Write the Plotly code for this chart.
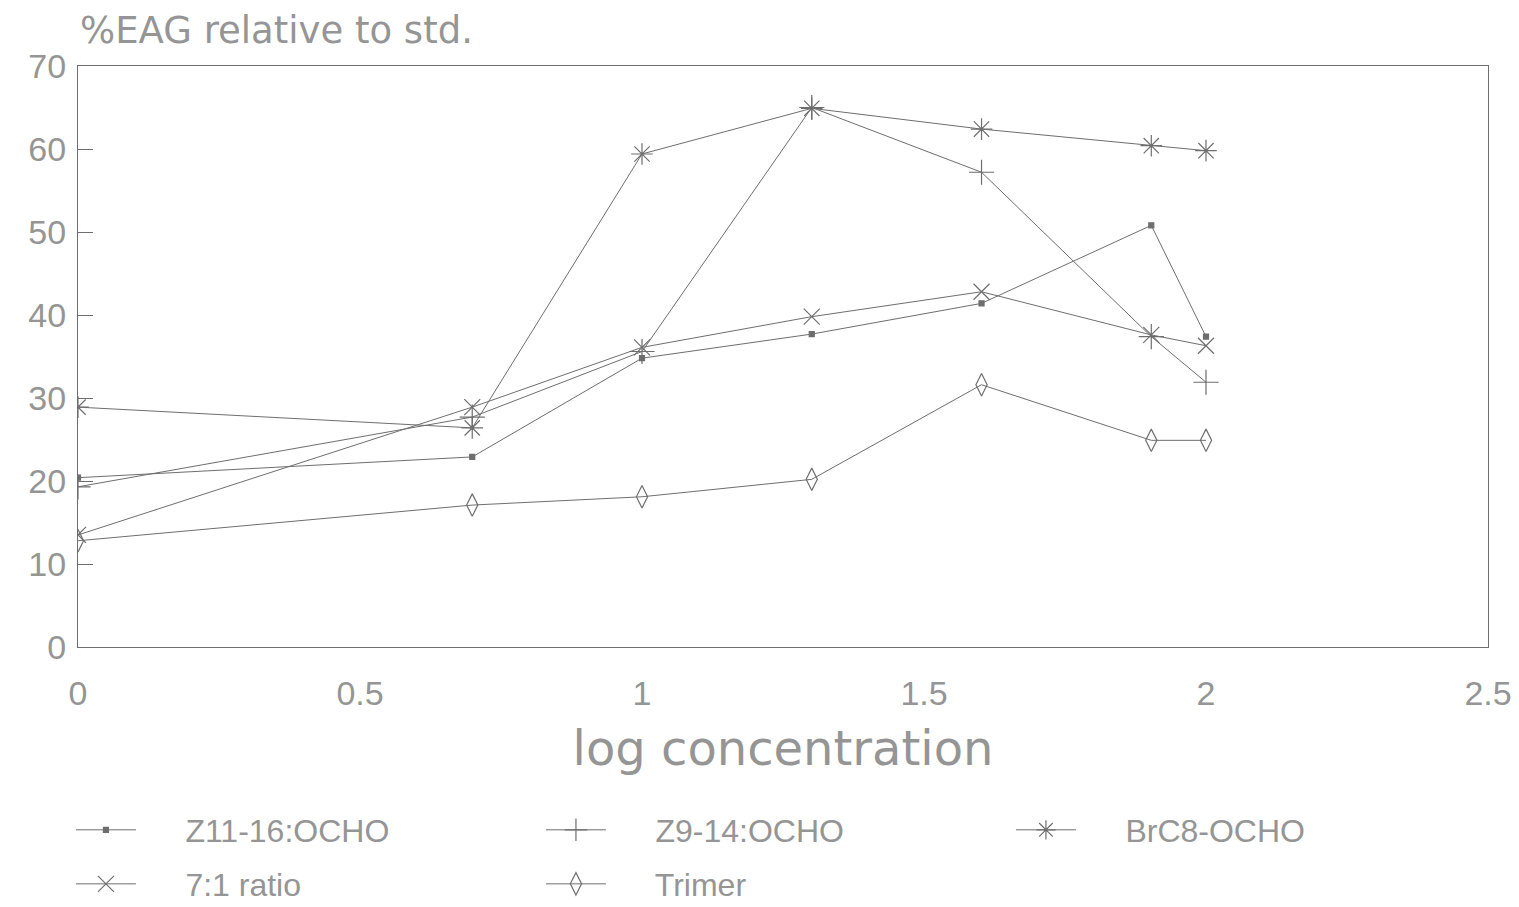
import plotly.graph_objects as go

log_conc = [0, 0.699, 1, 1.301, 1.602, 1.903, 2]
z11_16 = [20.4, 22.9, 34.8, 37.7, 41.4, 50.8, 37.4]
z9_14 = [19.3, 27.7, 35.6, 65.0, 57.2, 37.4, 31.9]
brc8 = [28.9, 26.4, 59.4, 64.9, 62.4, 60.4, 59.8]
ratio_71 = [13.5, 28.9, 36.1, 39.8, 42.8, 37.6, 36.3]
trimer = [12.8, 17.1, 18.1, 20.2, 31.6, 24.9, 24.9]

series = [
    ("Z11-16:OCHO", z11_16, "square", 5, "legend"),
    ("Z9-14:OCHO", z9_14, "cross-thin", 18, "legend"),
    ("BrC8-OCHO", brc8, "asterisk", 18, "legend"),
    ("7:1 ratio", ratio_71, "x-thin", 16, "legend2"),
    ("Trimer", trimer, "diamond-tall-open", 16, "legend2"),
]

LINE = "#6e6e6e"
TEXT = "#959595"
SANS = "Liberation Sans, sans-serif"
WIDE = "DejaVu Sans, sans-serif"

fig = go.Figure()
for name, vals, sym, size, lg in series:
    fig.add_trace(go.Scatter(
        x=log_conc, y=vals, name="     " + name, mode="lines+markers",
        line=dict(color=LINE, width=1),
        marker=dict(symbol=sym, size=size, color=LINE,
                    line=dict(color=LINE, width=1.2)),
        legend=lg,
    ))

leg_common = dict(orientation="h", x=-0.005, xanchor="left", yanchor="middle",
                  entrywidth=395, entrywidthmode="pixels", itemwidth=60,
                  font=dict(family=SANS, size=32, color=TEXT),
                  bgcolor="rgba(0,0,0,0)")

fig.update_layout(
    width=1519, height=907,
    paper_bgcolor="white", plot_bgcolor="white",
    margin=dict(l=78, r=31, t=66, b=260, autoexpand=False),
    font=dict(family=SANS, color=TEXT, size=30),
    xaxis=dict(range=[0, 2.5], tickvals=[0, 0.5, 1, 1.5, 2, 2.5],
               ticktext=["0", "0.5", "1", "1.5", "2", "2.5"],
               showgrid=False, zeroline=False, showline=True, mirror=True,
               linecolor=LINE, linewidth=1, ticks="", ticklabelstandoff=16,
               tickfont=dict(family=SANS, size=34, color=TEXT),
               title=dict(text="log concentration",
                          font=dict(family=WIDE, size=48, color=TEXT),
                          standoff=20)),
    yaxis=dict(range=[0, 70], dtick=10, showgrid=False, zeroline=False,
               showline=True, mirror=True, linecolor=LINE, linewidth=1,
               ticks="inside", ticklen=15, tickcolor=LINE,
               ticklabelstandoff=4,
               tickfont=dict(family=SANS, size=34, color=TEXT)),
    legend=dict(y=-0.315, **leg_common),
    legend2=dict(y=-0.408, **leg_common),
    annotations=[dict(text="%EAG relative to std.", xref="paper", yref="paper",
                      x=0.0, y=1.0, xanchor="left", yanchor="bottom", yshift=12,
                      showarrow=False, font=dict(family=WIDE, size=37, color=TEXT))],
)

fig.write_html("out.html")
